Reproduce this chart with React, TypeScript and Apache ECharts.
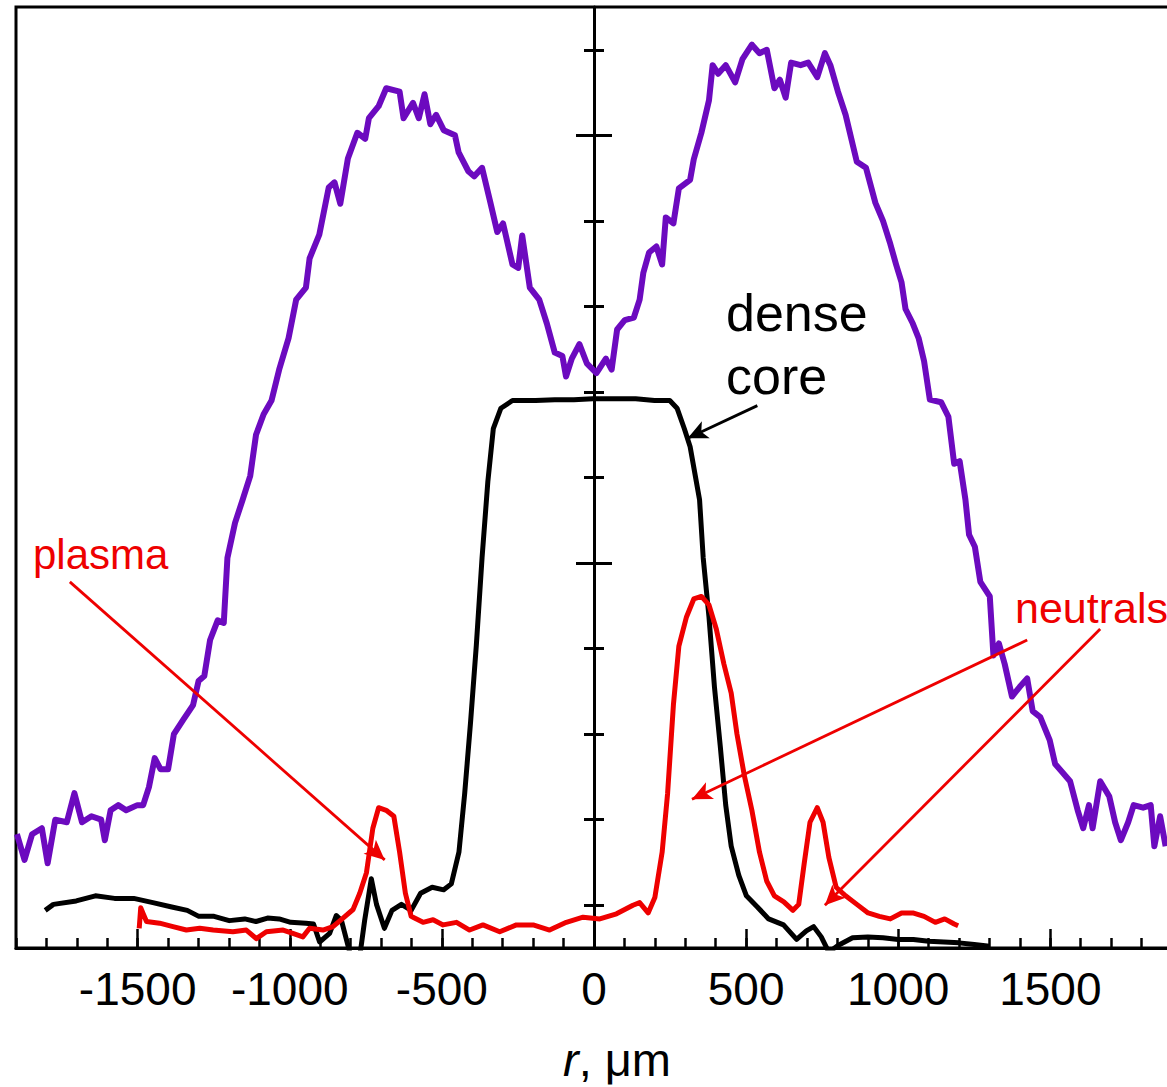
import React, { useEffect, useRef } from "react";
import * as echarts from "echarts";

// r in µm, intensity in arbitrary units (axis ticks at integers, major at 5 and 10)
const purpleData: [number, number][] = [
  [-1897, 1.83], [-1872, 1.53], [-1847, 1.83], [-1815, 1.9], [-1796, 1.49], [-1771, 2.0], [-1733, 1.97],
  [-1708, 2.31], [-1683, 1.97], [-1652, 2.04], [-1620, 2.0], [-1608, 1.76], [-1589, 2.11], [-1564, 2.17],
  [-1538, 2.11], [-1501, 2.17], [-1482, 2.17], [-1463, 2.38], [-1444, 2.72], [-1425, 2.59], [-1400, 2.59],
  [-1381, 3.0], [-1350, 3.17], [-1318, 3.34], [-1300, 3.62], [-1281, 3.68], [-1262, 4.1], [-1237, 4.33],
  [-1217, 4.3], [-1205, 5.06], [-1180, 5.47], [-1155, 5.74], [-1130, 6.02], [-1111, 6.5], [-1086, 6.74],
  [-1060, 6.9], [-1035, 7.26], [-1004, 7.63], [-979, 8.08], [-947, 8.22], [-935, 8.56], [-903, 8.84],
  [-872, 9.39], [-853, 9.45], [-834, 9.2], [-809, 9.73], [-778, 10.03], [-752, 9.96], [-740, 10.2],
  [-708, 10.34], [-683, 10.55], [-639, 10.51], [-626, 10.2], [-595, 10.38], [-576, 10.2], [-557, 10.48],
  [-538, 10.13], [-519, 10.24], [-494, 10.06], [-457, 10.0], [-445, 9.8], [-413, 9.58], [-394, 9.52],
  [-368, 9.62], [-343, 9.25], [-318, 8.87], [-299, 8.97], [-268, 8.49], [-249, 8.45], [-236, 8.83],
  [-211, 8.22], [-180, 8.08], [-155, 7.8], [-129, 7.46], [-104, 7.42], [-92, 7.18], [-73, 7.39],
  [-48, 7.56], [-23, 7.33], [8, 7.22], [39, 7.39], [58, 7.26], [76, 7.73], [101, 7.84], [131, 7.87],
  [150, 8.08], [162, 8.39], [181, 8.63], [205, 8.7], [224, 8.49], [236, 9.04], [261, 8.97], [279, 9.38],
  [316, 9.48], [328, 9.72], [353, 10.03], [378, 10.41], [390, 10.82], [408, 10.72], [433, 10.82],
  [464, 10.62], [488, 10.89], [519, 11.06], [544, 10.96], [568, 11.0], [593, 10.55], [611, 10.65],
  [630, 10.44], [648, 10.85], [679, 10.82], [704, 10.85], [734, 10.68], [759, 10.96], [777, 10.82],
  [802, 10.51], [827, 10.24], [864, 9.69], [894, 9.62], [925, 9.21], [950, 9.0], [974, 8.73], [993, 8.49],
  [1011, 8.28], [1024, 7.97], [1048, 7.8], [1067, 7.63], [1085, 7.36], [1104, 6.91], [1141, 6.88],
  [1165, 6.71], [1184, 6.16], [1202, 6.19], [1221, 5.74], [1233, 5.33], [1252, 5.19], [1270, 4.78],
  [1301, 4.61], [1313, 3.92], [1331, 4.06], [1350, 3.82], [1374, 3.44], [1399, 3.55], [1424, 3.65],
  [1442, 3.27], [1467, 3.2], [1498, 2.93], [1516, 2.65], [1541, 2.55], [1565, 2.45], [1590, 2.11],
  [1608, 1.9], [1627, 2.17], [1639, 1.9], [1664, 2.45], [1694, 2.27], [1713, 1.97], [1732, 1.76],
  [1756, 1.97], [1774, 2.17], [1805, 2.14], [1830, 2.17], [1842, 1.69], [1861, 2.04], [1879, 1.69],
];

const coreData: [number, number][] = [
  [-1804, 0.94], [-1777, 1.01], [-1702, 1.05], [-1639, 1.11], [-1576, 1.08], [-1513, 1.08], [-1450, 1.03],
  [-1388, 0.98], [-1337, 0.94], [-1299, 0.87], [-1249, 0.87], [-1199, 0.82], [-1148, 0.84], [-1111, 0.81],
  [-1073, 0.85], [-1035, 0.84], [-997, 0.8], [-947, 0.79], [-922, 0.78], [-902, 0.57], [-869, 0.67],
  [-847, 0.88], [-830, 0.82], [-803, 0.45], [-790, 0.3], [-772, 0.35], [-754, 0.82], [-732, 1.31],
  [-715, 1.01], [-689, 0.73], [-664, 0.94], [-633, 1.01], [-601, 0.94], [-570, 1.14], [-532, 1.21],
  [-494, 1.18], [-469, 1.25], [-444, 1.62], [-425, 2.31], [-406, 3.13], [-387, 4.03], [-368, 5.06],
  [-349, 5.95], [-331, 6.57], [-306, 6.81], [-268, 6.9], [-192, 6.9], [-129, 6.91], [-66, 6.91],
  [-4, 6.92], [27, 6.92], [137, 6.92], [199, 6.9], [249, 6.9], [273, 6.81], [297, 6.57], [316, 6.36],
  [347, 5.74], [359, 5.06], [378, 4.37], [396, 3.55], [415, 2.86], [433, 2.17], [451, 1.69], [476, 1.35],
  [501, 1.11], [537, 0.98], [574, 0.84], [623, 0.77], [666, 0.6], [698, 0.7], [722, 0.75], [747, 0.63],
  [772, 0.45], [802, 0.53], [850, 0.62], [900, 0.63], [950, 0.62], [1000, 0.6], [1050, 0.6], [1100, 0.58],
  [1150, 0.57], [1200, 0.56], [1250, 0.54], [1300, 0.52],
];

const redData: [number, number][] = [
  [-1495, 0.73], [-1490, 0.97], [-1483, 0.91], [-1471, 0.81], [-1428, 0.79], [-1384, 0.75], [-1340, 0.71],
  [-1296, 0.73], [-1252, 0.71], [-1187, 0.69], [-1143, 0.71], [-1110, 0.61], [-1077, 0.69], [-1022, 0.71],
  [-990, 0.67], [-957, 0.63], [-935, 0.73], [-891, 0.71], [-858, 0.75], [-825, 0.85], [-792, 0.95],
  [-770, 1.14], [-748, 1.38], [-727, 1.9], [-708, 2.14], [-683, 2.11], [-658, 2.04], [-639, 1.62],
  [-620, 1.14], [-601, 0.87], [-595, 0.86], [-562, 0.8], [-529, 0.83], [-496, 0.77], [-452, 0.8],
  [-409, 0.71], [-365, 0.77], [-310, 0.69], [-255, 0.77], [-200, 0.77], [-146, 0.71], [-91, 0.8],
  [-36, 0.86], [19, 0.84], [74, 0.9], [128, 1.0], [150, 1.03], [178, 0.91], [200, 1.09], [224, 1.62],
  [242, 2.31], [261, 3.34], [279, 4.03], [304, 4.37], [328, 4.58], [353, 4.61], [378, 4.51], [402, 4.23],
  [427, 3.82], [451, 3.48], [470, 3.0], [494, 2.52], [519, 2.11], [544, 1.62], [568, 1.28], [593, 1.11],
  [624, 1.04], [654, 0.94], [673, 1.01], [691, 1.49], [710, 1.97], [734, 2.14], [753, 1.97], [772, 1.56],
  [796, 1.21], [827, 1.11], [864, 1.01], [901, 0.91], [938, 0.87], [974, 0.84], [1011, 0.91], [1048, 0.91],
  [1085, 0.87], [1122, 0.8], [1153, 0.84], [1184, 0.78], [1197, 0.76],
];

const xLabelValues = [-1500, -1000, -500, 0, 500, 1000, 1500];
const yMinorTicks = [1, 2, 3, 4, 6, 7, 8, 9, 11];
const yMajorTicks = [5, 10];

// annotation arrows in data coordinates: [from, to]
const coreArrow: [[number, number], [number, number]] = [[537, 6.84], [308, 6.46]];
const plasmaArrow: [[number, number], [number, number]] = [[-1723, 4.78], [-688, 1.53]];
const neutralArrows: [[number, number], [number, number]][] = [
  [[1424, 4.1], [322, 2.24]],
  [[1664, 4.23], [759, 1.0]],
];

const FONT = "'Liberation Sans', Arial, sans-serif";
const PURPLE = "#6c0abf";
const RED = "#ee0000";

function yAxisDef(pos: "left" | "right", ticks: number[], len: number, showLine: boolean) {
  return {
    type: "value",
    min: 0.5,
    max: 11.5,
    position: pos,
    axisLine: { show: showLine, onZero: true, onZeroAxisIndex: 0, lineStyle: { color: "#000", width: 3 } },
    axisTick: { show: true, customValues: ticks, length: len, lineStyle: { color: "#000", width: 3 } },
    axisLabel: { show: false },
    splitLine: { show: false },
  };
}

export default function App() {
  const ref = useRef<HTMLDivElement>(null);
  useEffect(() => {
    if (!ref.current) return;
    const chart = echarts.init(ref.current, null, { renderer: "svg" });
    const arrowLine = (pairs: [[number, number], [number, number]][], color: string) => ({
      silent: true,
      symbol: ["none", "arrow"],
      symbolSize: [14, 20],
      label: { show: false },
      lineStyle: { color, width: 2.8, type: "solid" },
      data: pairs.map(([a, b]) => [{ coord: a }, { coord: b }]),
    });
    chart.setOption({
      animation: false,
      backgroundColor: "#fff",
      grid: {
        left: 16,
        right: -5,
        top: 7,
        bottom: 139,
        show: true,
        borderColor: "#000",
        borderWidth: 3,
        outerBoundsMode: "none",
        containLabel: false,
      },
      xAxis: [
        {
          type: "value",
          min: -1900,
          max: 1900,
          interval: 100,
          position: "bottom",
          name: "{i|r}, μm",
          nameLocation: "middle",
          nameGap: 88,
          nameTextStyle: {
            fontSize: 47,
            fontFamily: FONT,
            color: "#000",
            padding: [0, 0, 0, 46],
            rich: { i: { fontStyle: "italic", fontSize: 47, fontFamily: FONT, color: "#000" } },
          },
          axisLine: { show: true, lineStyle: { color: "#000", width: 3 } },
          axisTick: { show: true, inside: true, length: 10, lineStyle: { color: "#000", width: 2.5 } },
          axisLabel: {
            show: true,
            margin: 18,
            fontSize: 46,
            fontFamily: FONT,
            color: "#000",
            formatter: (v: number) => (xLabelValues.includes(v) ? String(v) : ""),
          },
          splitLine: { show: false },
        },
        {
          type: "value",
          min: -1900,
          max: 1900,
          position: "bottom",
          axisLine: { show: false },
          axisTick: {
            show: true,
            inside: true,
            customValues: xLabelValues,
            length: 19,
            lineStyle: { color: "#000", width: 2.5 },
          },
          axisLabel: { show: false },
          splitLine: { show: false },
        },
      ],
      yAxis: [
        yAxisDef("left", yMinorTicks, 10, true),
        yAxisDef("right", yMinorTicks, 10, false),
        yAxisDef("left", yMajorTicks, 18, false),
        yAxisDef("right", yMajorTicks, 18, false),
      ],
      series: [
        {
          type: "line",
          data: purpleData,
          showSymbol: false,
          lineStyle: { color: PURPLE, width: 6, join: "round" },
          itemStyle: { color: PURPLE },
          z: 2,
        },
        {
          type: "line",
          data: coreData,
          showSymbol: false,
          lineStyle: { color: "#000", width: 5, join: "round" },
          itemStyle: { color: "#000" },
          markLine: arrowLine([coreArrow], "#000"),
          z: 3,
        },
        {
          type: "line",
          data: redData,
          showSymbol: false,
          lineStyle: { color: RED, width: 5, join: "round" },
          itemStyle: { color: RED },
          markLine: arrowLine([plasmaArrow, ...neutralArrows], RED),
          z: 4,
        },
      ],
      graphic: [
        { type: "text", x: 726, y: 313, style: { text: "dense", fill: "#000", fontSize: 52, fontFamily: FONT, verticalAlign: "middle", align: "left" } },
        { type: "text", x: 726, y: 376, style: { text: "core", fill: "#000", fontSize: 52, fontFamily: FONT, verticalAlign: "middle", align: "left" } },
        { type: "text", x: 33, y: 554, style: { text: "plasma", fill: RED, fontSize: 42, fontFamily: FONT, verticalAlign: "middle", align: "left" } },
        { type: "text", x: 1015, y: 608, style: { text: "neutrals", fill: RED, fontSize: 43, fontFamily: FONT, verticalAlign: "middle", align: "left" } },
      ],
    });
    return () => chart.dispose();
  }, []);
  return <div ref={ref} style={{ position: "absolute", left: 0, top: 0, width: 1167, height: 1087 }} />;
}
